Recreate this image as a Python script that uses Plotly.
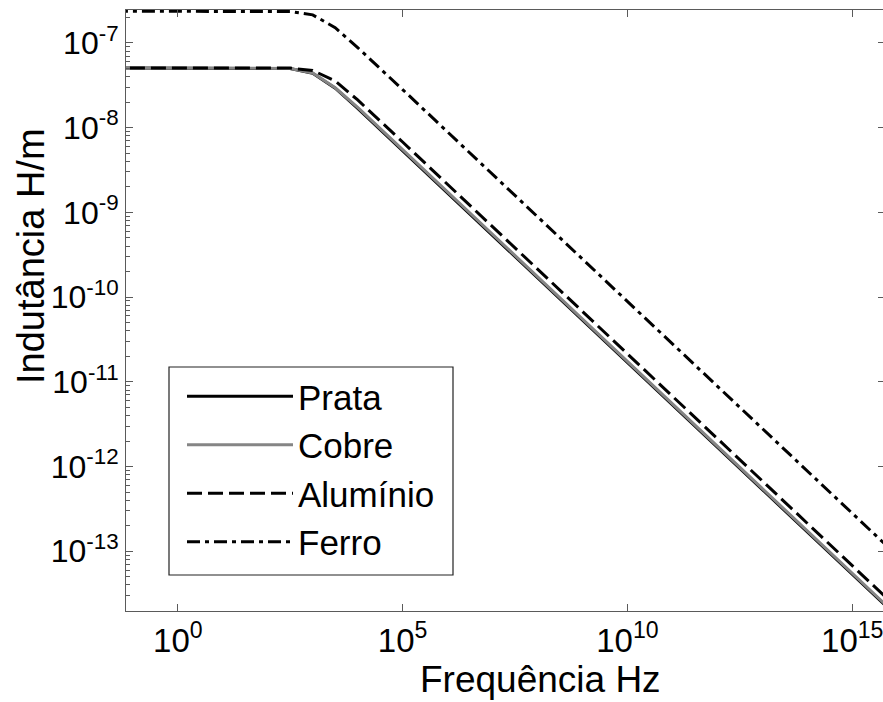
import plotly.graph_objects as go

# ---- data (frequency in Hz, inductance in H/m) ----
freq_hz = [1e-2, 1e2, 316.2, 1e3, 3162.3, 1e4, 31623.0, 1e5, 1e16]
prata = [5.07e-8, 5.05e-8, 4.98e-8, 4.37e-8, 2.92e-8, 1.69e-8, 9.5e-9, 5.35e-9, 1.69e-14]
cobre = [5.07e-8, 5.05e-8, 4.99e-8, 4.42e-8, 2.95e-8, 1.73e-8, 9.77e-9, 5.50e-9, 1.74e-14]
aluminio = [5.07e-8, 5.07e-8, 5.04e-8, 4.73e-8, 3.55e-8, 2.12e-8, 1.20e-8, 6.76e-9, 2.14e-14]
ferro = [2.37e-7, 2.37e-7, 2.34e-7, 2.14e-7, 1.51e-7, 8.81e-8, 5.01e-8, 2.81e-8, 8.87e-14]

series_names = ["Prata", "Cobre", "Alumínio", "Ferro"]
x_tick_exps = [0, 5, 10, 15]
y_tick_exps = [-13, -12, -11, -10, -9, -8, -7]
x_title = "Frequência Hz"
y_title = "Indutância H/m"

FONT = "Liberation Sans, Arial, sans-serif"
AXC = "#5a5a5a"

styles = [
    dict(color="black", width=3),
    dict(color="#858585", width=3),
    dict(color="black", width=3, dash="15px,6px"),
    dict(color="black", width=3, dash="13px,5px,4px,5px"),
]

fig = go.Figure()
for name, vals, st in zip(series_names, [prata, cobre, aluminio, ferro], styles):
    fig.add_trace(go.Scatter(x=freq_hz, y=vals, mode="lines", name=name,
                             line=st, legendgroup=name))
# helper trace so the right-hand tick axis is drawn
fig.add_trace(go.Scatter(x=[], y=[], yaxis="y2", showlegend=False, hoverinfo="skip"))

y_minor = [m * 10.0 ** e for e in range(-14, -6) for m in range(2, 10)]
yrange = [-13.705, -6.612]

PL, PT, PW, PH = 126, 10, 757, 601  # plot area in pixels


def px(xp):
    return (xp - PL) / PW


def py(yp):
    return (PT + PH - yp) / PH


fig.update_layout(
    width=883, height=702, autosize=False,
    template="none",
    paper_bgcolor="white", plot_bgcolor="white",
    margin=dict(l=PL, r=883 - PL - PW, t=PT, b=702 - PT - PH, pad=0),
    font=dict(family=FONT, color="black"),
    showlegend=True,
    legend=dict(x=px(182), y=py(367), xanchor="left", yanchor="top",
                bgcolor="rgba(0,0,0,0)", borderwidth=0,
                font=dict(size=35, family=FONT, color="black"),
                itemwidth=106, tracegroupgap=4, traceorder="normal"),
    shapes=[dict(type="rect", xref="paper", yref="paper",
                 x0=px(169), x1=px(453), y0=py(575), y1=py(367),
                 line=dict(color="#222", width=1.2), fillcolor="white", layer="above")],
    xaxis=dict(type="log", range=[-1.153, 15.684], automargin=False,
               tickvals=[10.0 ** e for e in x_tick_exps],
               ticktext=[f"10<sup>{e}</sup>" for e in x_tick_exps],
               ticks="inside", ticklen=7, tickcolor=AXC, tickwidth=1,
               ticklabeloverflow="allow",
               showline=True, linecolor=AXC, linewidth=1, mirror="ticks",
               showgrid=False, zeroline=False,
               tickfont=dict(size=33, family=FONT, color="black")),
    yaxis=dict(type="log", range=yrange, automargin=False,
               tickvals=[10.0 ** e for e in y_tick_exps],
               ticktext=[f"10<sup>{e}</sup>" for e in y_tick_exps],
               ticks="inside", ticklen=7, tickcolor=AXC, tickwidth=1,
               ticklabeloverflow="allow",
               minor=dict(ticks="inside", ticklen=4, tickcolor=AXC, tickvals=y_minor, showgrid=False),
               showline=True, linecolor=AXC, linewidth=1,
               showgrid=False, zeroline=False,
               tickfont=dict(size=32, family=FONT, color="black")),
    yaxis2=dict(type="log", range=yrange, overlaying="y", side="right", anchor="x",
                tickvals=[10.0 ** e for e in y_tick_exps],
                ticks="inside", ticklen=5, tickcolor=AXC, showticklabels=False,
                showline=False, showgrid=False, zeroline=False, automargin=False),
    annotations=[
        dict(text=x_title, xref="paper", yref="paper", x=px(540), y=py(680),
             xanchor="center", yanchor="middle", showarrow=False,
             font=dict(size=37, family=FONT, color="black")),
        dict(text=y_title, xref="paper", yref="paper", x=px(31), y=py(256),
             xanchor="center", yanchor="middle", textangle=-90, showarrow=False,
             font=dict(size=38, family=FONT, color="black")),
    ],
)

fig.write_html("out.html")
